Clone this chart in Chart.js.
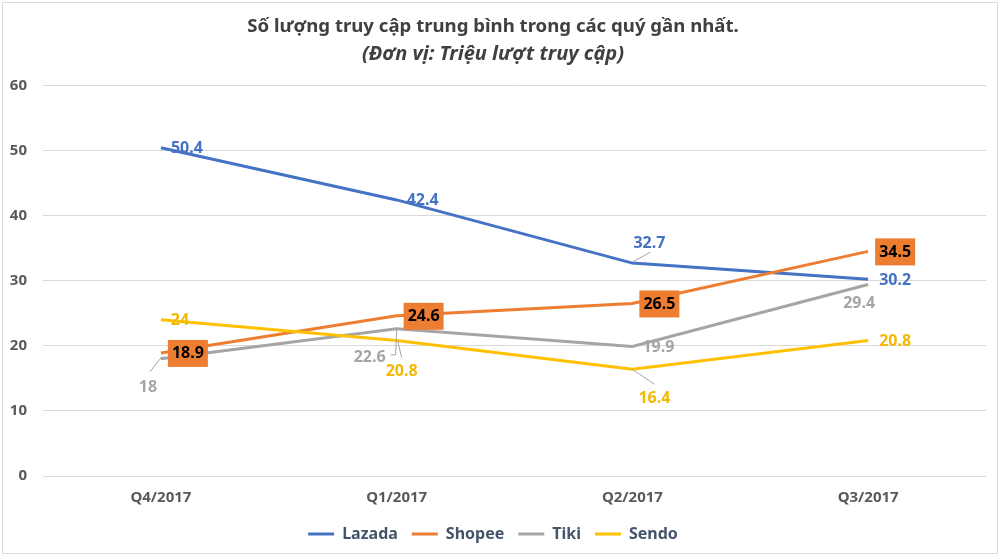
<!DOCTYPE html>
<html>
<head>
<meta charset="utf-8">
<script src="https://cdn.jsdelivr.net/npm/chart.js@4/dist/chart.umd.min.js"></script>
<style>
  html, body { margin: 0; padding: 0; background: #ffffff; }
  #wrap { width: 1000px; height: 556px; position: relative; }
</style>
</head>
<body>
<div id="wrap"><canvas id="chart" width="1000" height="556"></canvas></div>
<script>
// Dữ liệu
const categories = ['Q4/2017', 'Q1/2017', 'Q2/2017', 'Q3/2017'];
const lazada = [50.4, 42.4, 32.7, 30.2];
const shopee = [18.9, 24.6, 26.5, 34.5];
const tiki = [18, 22.6, 19.9, 29.4];
const sendo = [24, 20.8, 16.4, 20.8];
const yTicks = [0, 10, 20, 30, 40, 50, 60];

const FONT = "'Noto Sans', 'Open Sans', sans-serif";

// Vị trí nhãn (dx, dy so với điểm) và đường dẫn
const labelOffsets = [
    [[26, 0], [26, 0], [17, -21], [27, 0]],
    [[27, 0], [27, 0], [27, 0], [27, 0]],
    [[-13, 28], [-27, 28], [26, 0], [-9, 18]],
    [[19, 0], [5, 30], [22, 28], [27, 0]]
];
const leaders = [
    [null, null, [[0, -1], [18, -11]], null],
    [null, null, null, null],
    [[[1, -2], [-11, 13]], [[0, 0], [-1, 26], [-6, 26]], null, null],
    [null, [[1, 0], [5, 17]], [[0, 0], [22, 15]], null]
];
const labelStyles = [
    { color: '#4472C4' },
    { color: '#000000', box: '#ED7D31' },
    { color: '#A5A5A5' },
    { color: '#F5B800' }
];

const dataLabels = {
    id: 'dataLabels',
    afterDatasetsDraw(chart) {
        const ctx = chart.ctx;
        ctx.save();
        ctx.font = 'bold 16px ' + FONT;
        ctx.textAlign = 'center';
        ctx.textBaseline = 'middle';
        chart.data.datasets.forEach((ds, i) => {
            const meta = chart.getDatasetMeta(i);
            const st = labelStyles[i];
            meta.data.forEach((pt, j) => {
                const off = labelOffsets[i][j];
                const lx = pt.x + off[0];
                const ly = pt.y + off[1];
                const lead = leaders[i][j];
                if (lead) {
                    ctx.strokeStyle = '#A6A6A6';
                    ctx.lineWidth = 1;
                    ctx.beginPath();
                    lead.forEach((p, k) => {
                        if (k === 0) ctx.moveTo(pt.x + p[0], pt.y + p[1]);
                        else ctx.lineTo(pt.x + p[0], pt.y + p[1]);
                    });
                    ctx.stroke();
                }
                if (st.box) {
                    ctx.fillStyle = st.box;
                    ctx.fillRect(lx - 20, ly - 13, 40, 27);
                }
                ctx.fillStyle = st.color;
                ctx.fillText(String(ds.data[j]), lx, ly + 1);
            });
        });
        ctx.restore();
    }
};

const frame = {
    id: 'frame',
    beforeDraw(chart) {
        const ctx = chart.ctx;
        ctx.save();
        ctx.fillStyle = '#ffffff';
        ctx.fillRect(0, 0, chart.width, chart.height);
        ctx.strokeStyle = '#D9D9D9';
        ctx.lineWidth = 1;
        ctx.strokeRect(2.5, 2.5, chart.width - 5, chart.height - 5);
        ctx.restore();
    }
};

function makeSet(label, data, color, order) {
    return {
        label: label,
        data: data,
        borderColor: color,
        backgroundColor: color,
        borderWidth: 3,
        pointRadius: 0,
        tension: 0,
        order: order
    };
}

new Chart(document.getElementById('chart'), {
    type: 'line',
    data: {
        labels: categories,
        datasets: [
            makeSet('Lazada', lazada, '#4472C4', 4),
            makeSet('Shopee', shopee, '#ED7D31', 3),
            makeSet('Tiki', tiki, '#A5A5A5', 2),
            makeSet('Sendo', sendo, '#FFC000', 1)
        ]
    },
    options: {
        responsive: false,
        animation: false,
        layout: { padding: { left: 0, right: 14, top: 0, bottom: 4 } },
        plugins: {
            title: {
                display: true,
                text: 'Số lượng truy cập trung bình trong các quý gần nhất.',
                color: '#404040',
                font: { family: FONT, size: 18.6, weight: 'bold' },
                padding: { top: 16, bottom: 4 }
            },
            subtitle: {
                display: true,
                text: '(Đơn vị: Triệu lượt truy cập)',
                color: '#404040',
                font: { family: FONT, size: 20, weight: 'bold', style: 'italic' },
                padding: { top: 0, bottom: 19 }
            },
            legend: {
                position: 'bottom',
                labels: {
                    boxWidth: 26,
                    boxHeight: 3,
                    padding: 14,
                    color: '#44546A',
                    font: { family: FONT, size: 16, weight: 'bold' },
                    sort: (a, b) => a.datasetIndex - b.datasetIndex,
                    generateLabels: chart => Chart.defaults.plugins.legend.labels.generateLabels(chart)
                        .map(l => Object.assign(l, { lineWidth: 0, fillStyle: l.strokeStyle }))
                }
            },
            tooltip: { enabled: false }
        },
        scales: {
            x: {
                offset: true,
                grid: { display: false },
                border: { display: false },
                ticks: {
                    color: '#595959',
                    padding: 5,
                    font: { family: FONT, size: 15, weight: 'bold' }
                }
            },
            y: {
                min: yTicks[0],
                max: yTicks[yTicks.length - 1],
                afterFit: s => { s.width = 43; },
                afterBuildTicks: s => { s.ticks = yTicks.map(v => ({ value: v })); },
                grid: { color: '#D9D9D9', lineWidth: 1, drawTicks: false },
                border: { display: false },
                ticks: {
                    color: '#595959',
                    padding: 16,
                    font: { family: FONT, size: 15, weight: 'bold' }
                }
            }
        }
    },
    plugins: [frame, dataLabels]
});
</script>
</body>
</html>
